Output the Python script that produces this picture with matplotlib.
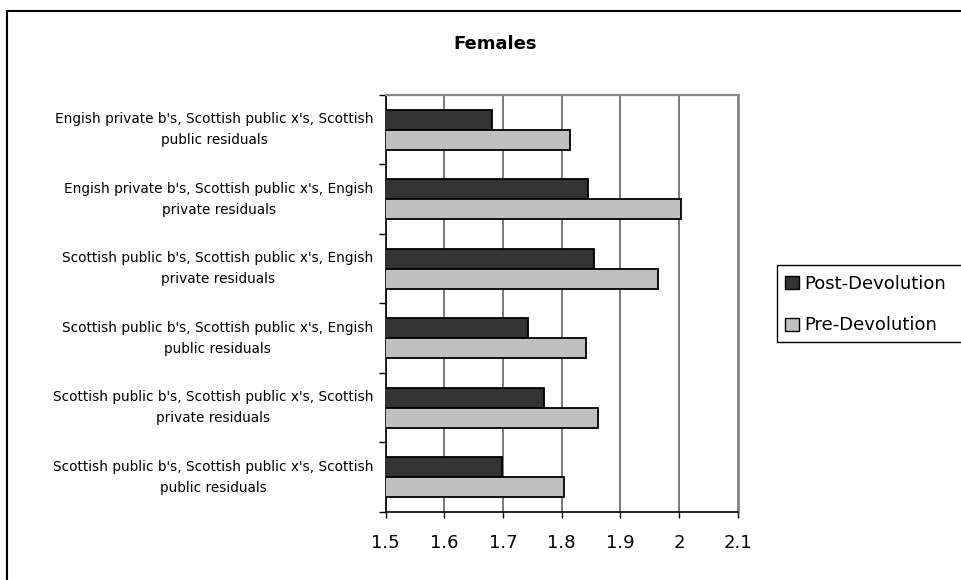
import matplotlib
matplotlib.use("Agg")
import matplotlib.pyplot as plt
from matplotlib.patches import Rectangle, Patch
import numpy as np

plt.rcParams['font.family'] = ['DejaVu Sans']

categories = [
    "Engish private b's, Scottish public x's, Scottish\npublic residuals",
    "Engish private b's, Scottish public x's, Engish\nprivate residuals",
    "Scottish public b's, Scottish public x's, Engish\nprivate residuals",
    "Scottish public b's, Scottish public x's, Engish\npublic residuals",
    "Scottish public b's, Scottish public x's, Scottish\nprivate residuals",
    "Scottish public b's, Scottish public x's, Scottish\npublic residuals",
]
post_devolution = [1.681, 1.845, 1.855, 1.743, 1.770, 1.698]
pre_devolution = [1.814, 2.004, 1.964, 1.841, 1.862, 1.804]
series_labels = ["Post-Devolution", "Pre-Devolution"]
x_ticks = [1.5, 1.6, 1.7, 1.8, 1.9, 2.0, 2.1]
x_tick_labels = ["1.5", "1.6", "1.7", "1.8", "1.9", "2", "2.1"]
title = "Females"

W, H = 962, 580
def fx(x): return x / W
def fy(y): return 1 - y / H

dark = "#333333"
light = "#C0C0C0"

fig = plt.figure(figsize=(W / 100, H / 100), dpi=100)
fig.patch.set_facecolor("white")

ax = fig.add_axes([fx(385.7), fy(512), (737.7 - 385.7) / W, (512 - 95) / H])

y = np.arange(len(categories))
h = 0.288
ax.barh(y - h / 2, post_devolution, height=h, color=dark, edgecolor="black", linewidth=1.3, zorder=3)
ax.barh(y + h / 2, pre_devolution, height=h, color=light, edgecolor="black", linewidth=1.3, zorder=3)

ax.set_xlim(1.5, 2.1)
ax.set_ylim(len(categories) - 0.5, -0.5)

ax.set_xticks(x_ticks)
ax.set_xticklabels(x_tick_labels, fontsize=13)
ax.tick_params(axis="x", direction="out", length=4, width=1, pad=12, color="black")

ax.set_yticks(y)
ax.set_yticklabels(categories, fontsize=9.8, linespacing=1.6)
for t in ax.get_yticklabels():
    t.set_multialignment("center")
    t.set_verticalalignment("center")
ax.tick_params(axis="y", which="major", length=0, pad=9)
ax.set_yticks(np.arange(-0.5, len(categories) + 0.5, 1), minor=True)
ax.tick_params(axis="y", which="minor", direction="out", length=5, width=1, color="black")

ax.grid(axis="x", color="#555555", linewidth=1.1, zorder=0)
ax.set_axisbelow(True)

ax.spines["left"].set_color("black")
ax.spines["left"].set_linewidth(1.2)
ax.spines["bottom"].set_color("black")
ax.spines["bottom"].set_linewidth(1.2)
ax.spines["top"].set_color("#888888")
ax.spines["top"].set_linewidth(1.6)
ax.spines["right"].set_color("#888888")
ax.spines["right"].set_linewidth(2.0)

fig.text(fx(495), fy(44), title, ha="center", va="center", fontsize=13, fontweight="bold")

# outer chart border (runs past the right and bottom edges)
fig.add_artist(Rectangle((fx(7), fy(620)), fx(1000) - fx(7), fy(11) - fy(620),
                         transform=fig.transFigure, fill=False, edgecolor="black", linewidth=1.5))

# legend frame (runs past the right edge)
fig.add_artist(Rectangle((fx(777), fy(342)), fx(1000) - fx(777), fy(265) - fy(342),
                         transform=fig.transFigure, fill=False, edgecolor="black", linewidth=1.0))

handles = [Patch(facecolor=dark, edgecolor="black", linewidth=1.0),
           Patch(facecolor=light, edgecolor="black", linewidth=1.0)]
fig.legend(handles, series_labels, loc="upper left", bbox_to_anchor=(fx(785), fy(275)),
           frameon=False, fontsize=13, handlelength=0.75, handleheight=0.75,
           handletextpad=0.3, labelspacing=1.3, borderpad=0.0, borderaxespad=0)

fig.savefig("out.png", dpi=100, facecolor="white")
